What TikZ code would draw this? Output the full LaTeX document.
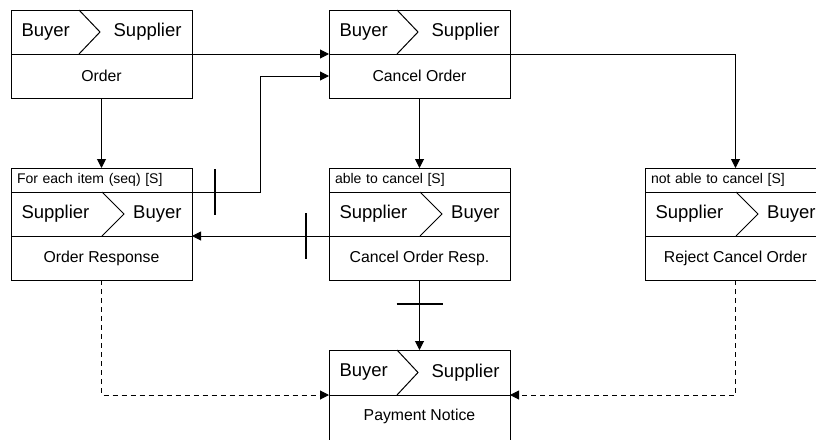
\documentclass[tikz,border=0pt]{standalone}
\usepackage{fontspec}
\setmainfont{Liberation Sans}
\usetikzlibrary{arrows.meta,positioning,calc}

\begin{document}
\begin{tikzpicture}[
    x=1pt, y=-1pt,
    line width=1pt,
    >={Triangle[length=9pt,width=9pt]},
    hdr/.style={
        rectangle, draw, minimum width=181pt, minimum height=44pt,
        inner sep=0pt, outer sep=0pt
    },
    body/.style={
        rectangle, draw, minimum width=181pt, minimum height=44pt,
        inner sep=0pt, outer sep=0pt, font=\fontsize{15.8pt}{18pt}\selectfont
    },
    tag/.style={
        rectangle, draw, text width=169pt, minimum height=24pt,
        inner xsep=6pt, inner ysep=0pt, outer sep=0pt, align=left,
        font=\fontsize{14pt}{16pt}\selectfont
    },
    word/.style={inner sep=3pt, font=\fontsize{18.5pt}{22pt}\selectfont},
    arr/.style={->},
    dasharr/.style={->, dash pattern=on 5pt off 4pt},
    cutmark/.style={line width=1.8pt}
]
    \useasboundingbox (0,0) rectangle (816,439);
    \fill[white] (0,0) rectangle (816,439);
    \clip (0,0) rectangle (816,439);

    % top row
    \node[hdr] (h1) at (101.5,32) {};
    \node[body, below=0pt of h1] (b1) {Order};
    \node[word, anchor=west] (h1l) at ([xshift=7pt]h1.west) {Buyer};
    \node[word, anchor=east] (h1r) at ([xshift=-7pt]h1.east) {Supplier};
    \draw ([xshift=68pt]h1.north west) -- ([xshift=89pt]h1.west) -- ([xshift=68pt]h1.south west);

    \node[hdr] (h2) at (419.5,32) {};
    \node[body, below=0pt of h2] (b2) {Cancel Order};
    \node[word, anchor=west] (h2l) at ([xshift=7pt]h2.west) {Buyer};
    \node[word, anchor=east] (h2r) at ([xshift=-7pt]h2.east) {Supplier};
    \draw ([xshift=68pt]h2.north west) -- ([xshift=89pt]h2.west) -- ([xshift=68pt]h2.south west);

    % middle row
    \node[hdr] (h3) at (101.5,214) {};
    \node[tag, above=0pt of h3] (l3) {For each item (seq) [S]};
    \node[body, below=0pt of h3] (b3) {Order Response};
    \node[word, anchor=west] (h3l) at ([xshift=7pt]h3.west) {Supplier};
    \node[word, anchor=east] (h3r) at ([xshift=-7pt]h3.east) {Buyer};
    \draw ([xshift=91pt]h3.north west) -- ([xshift=113pt]h3.west) -- ([xshift=91pt]h3.south west);

    \node[hdr] (h4) at (419.5,214) {};
    \node[tag, above=0pt of h4] (l4) {able to cancel [S]};
    \node[body, below=0pt of h4] (b4) {Cancel Order Resp.};
    \node[word, anchor=west] (h4l) at ([xshift=7pt]h4.west) {Supplier};
    \node[word, anchor=east] (h4r) at ([xshift=-7pt]h4.east) {Buyer};
    \draw ([xshift=91pt]h4.north west) -- ([xshift=113pt]h4.west) -- ([xshift=91pt]h4.south west);

    \node[hdr] (h5) at (735.5,214) {};
    \node[tag, above=0pt of h5] (l5) {not able to cancel [S]};
    \node[body, below=0pt of h5] (b5) {Reject Cancel Order};
    \node[word, anchor=west] (h5l) at ([xshift=7pt]h5.west) {Supplier};
    \node[word, anchor=east] (h5r) at ([xshift=-7pt]h5.east) {Buyer};
    \draw ([xshift=91pt]h5.north west) -- ([xshift=113pt]h5.west) -- ([xshift=91pt]h5.south west);

    % bottom row, cut off by the page edge
    \node[hdr, minimum height=45pt] (h6) at (419.5,372.5) {};
    \node[body, below=0pt of h6, minimum height=48pt, text depth=8pt] (b6) {Payment Notice};
    \node[word, anchor=west] (h6l) at ([xshift=7pt]h6.west) {Buyer};
    \node[word, anchor=east] (h6r) at ([xshift=-7pt]h6.east) {Supplier};
    \draw ([xshift=68pt]h6.north west) -- ([xshift=89pt]h6.west) -- ([xshift=68pt]h6.south west);

    % connectors
    \draw[arr] (h1.south east) -- (h2.south west);
    \draw[arr] (h2.south east) -| (l5.north);
    \draw[arr] (b1.south) -- (l3.north);
    \draw[arr] (b2.south) -- (l4.north);
    \draw[arr] (l3.south east) -- coordinate[pos=0.34] (t1) ++(68,0) |- (b2.west);
    \draw[cutmark] ([yshift=23pt]t1) -- ([yshift=-23pt]t1);
    \draw[arr] (h4.south west) -- coordinate[pos=0.17] (t2) (h3.south east);
    \draw[cutmark] ([yshift=23pt]t2) -- ([yshift=-23pt]t2);
    \draw[arr] (b4.south) -- coordinate[pos=0.34] (t3) (h6.north);
    \draw[cutmark] ([xshift=-23pt]t3) -- ([xshift=23pt]t3);
    \draw[dasharr] (b3.south) |- (h6.south west);
    \draw[dasharr] (b5.south) |- (h6.south east);
\end{tikzpicture}
\end{document}
